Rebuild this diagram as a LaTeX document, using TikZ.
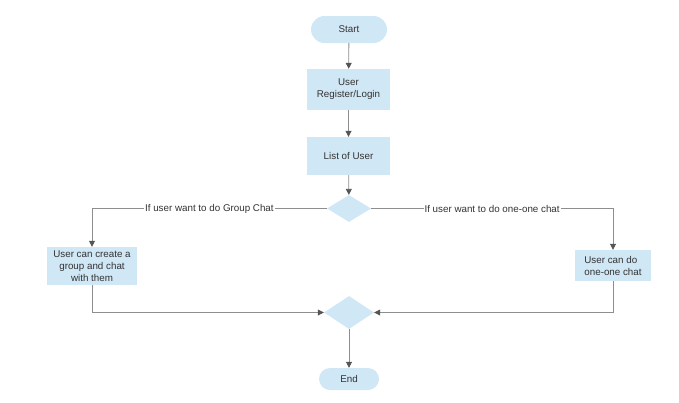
\documentclass[tikz,border=0pt]{standalone}
\usepackage{fontspec}
\setmainfont{Liberation Sans}
\usetikzlibrary{arrows.meta,shapes.geometric}
\definecolor{boxblue}{HTML}{D0E7F5}
\definecolor{linegray}{HTML}{8E8E8E}
\definecolor{tipgray}{HTML}{555555}
\begin{document}
\begin{tikzpicture}[x=1pt,y=-1pt,
    every node/.style={font=\fontsize{9.8}{12}\selectfont, text=black!80},
    proc/.style={rectangle, fill=boxblue, align=center, inner sep=0pt},
    term/.style={rectangle, rounded corners=11pt, fill=boxblue, inner sep=0pt},
    decide/.style={diamond, fill=boxblue, inner sep=0pt},
    flow/.style={draw=linegray, line width=0.8pt,
        -{Triangle[length=6pt,width=6pt,color=tipgray]}},
    edgelabel/.style={fill=white, inner sep=1pt}]
    \useasboundingbox (0,0) rectangle (679,402);

    \node[term, minimum width=76pt, minimum height=27pt, rounded corners=13.5pt] (start) at (349,29.5) {Start};
    \node[proc, minimum width=83pt, minimum height=41pt] (login) at (348.5,89.5) {User\\Register/Login};
    \node[proc, minimum width=83pt, minimum height=38pt] (list) at (348.5,156) {List of User};
    \node[decide, minimum width=44pt, minimum height=27pt] (choice) at (349,208.5) {};
    \node[proc, minimum width=90pt, minimum height=38pt] (group) at (92,266) {User can create a\\group and chat\\with them};
    \node[proc, align=left, minimum width=76pt, minimum height=31pt] (single) at (613,265.5) {User can do\\one-one chat};
    \node[decide, minimum width=50pt, minimum height=33pt] (merge) at (349,312.5) {};
    \node[term, minimum width=60pt, minimum height=22pt] (end) at (349,379) {End};

    \draw[flow] (start) -- (login);
    \draw[flow] (login) -- (list);
    \draw[flow] (list) -- (choice);
    \draw[flow] (choice.west) -| node[edgelabel, pos=0.25] {If user want to do Group Chat} (group.north);
    \draw[flow] (choice.east) -| node[edgelabel, pos=0.25] {If user want to do one-one chat} (single.north);
    \draw[flow] (group.south) |- (merge.west);
    \draw[flow] (single.south) |- (merge.east);
    \draw[flow] (merge) -- (end);
\end{tikzpicture}
\end{document}
